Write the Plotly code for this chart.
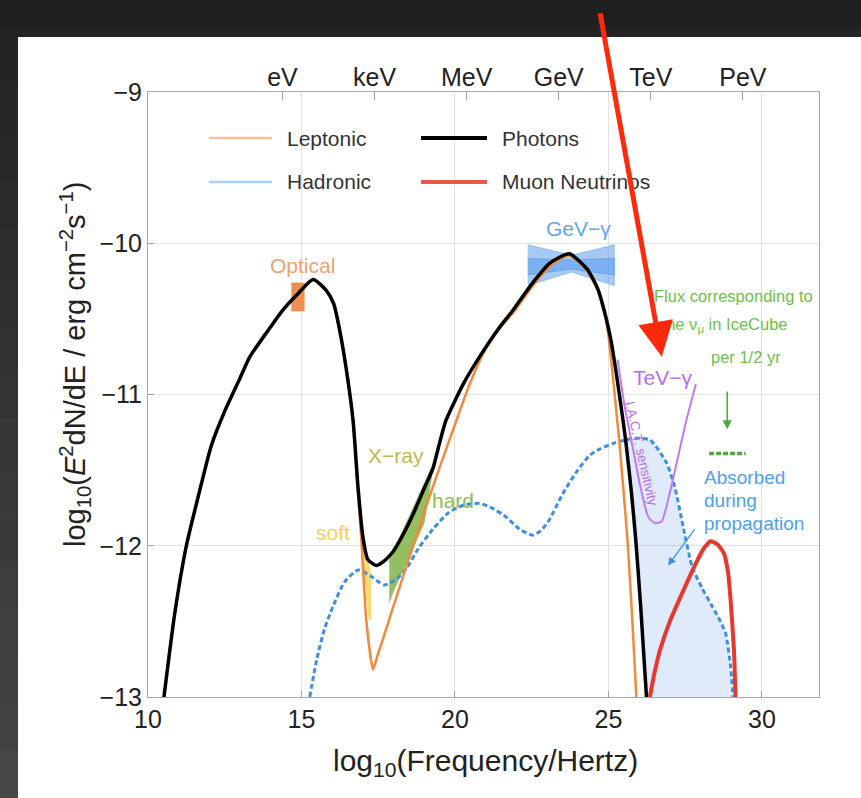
import plotly.graph_objects as go

# ---------------- data (log10 frequency [Hz], log10 E^2 dN/dE [erg cm^-2 s^-1]) ----------------
photon_x = [10.52, 10.87, 11.25, 11.63, 12.06, 12.50, 12.98, 13.32, 13.90, 14.40, 14.90, 15.38,
            15.80, 16.05, 16.24, 16.45, 16.68, 16.84, 17.00, 17.16, 17.44, 17.70, 17.98, 18.30,
            18.64, 19.00, 19.28, 19.50, 19.71, 20.30, 20.90, 21.40, 21.90, 22.50, 23.10, 23.72,
            24.30, 24.65, 24.92, 25.08, 25.30, 25.56, 25.75, 25.89, 26.05, 26.24]
photon_y = [-13.00, -12.45, -12.00, -11.68, -11.34, -11.11, -10.90, -10.75, -10.58, -10.44, -10.33, -10.24,
            -10.31, -10.40, -10.57, -10.82, -11.17, -11.61, -11.94, -12.09, -12.13, -12.10, -12.04, -11.93,
            -11.79, -11.62, -11.49, -11.32, -11.17, -10.92, -10.72, -10.57, -10.44, -10.27, -10.13, -10.07,
            -10.17, -10.30, -10.49, -10.64, -10.92, -11.30, -11.65, -11.96, -12.40, -13.00]

lepton_x = [10.52, 10.87, 11.25, 11.63, 12.06, 12.50, 12.98, 13.32, 13.90, 14.40, 14.90, 15.38,
            15.80, 16.05, 16.24, 16.45, 16.68, 16.84, 16.95, 17.11, 17.33, 17.50, 17.65, 17.87,
            18.41, 19.06, 19.82, 20.50, 21.00, 21.50, 21.90, 22.50, 23.10, 23.72, 24.30, 24.65,
            24.92, 25.02, 25.35, 25.62, 25.78, 25.91]
lepton_y = [-13.00, -12.45, -12.00, -11.68, -11.34, -11.11, -10.90, -10.75, -10.58, -10.44, -10.33, -10.24,
            -10.31, -10.40, -10.57, -10.82, -11.17, -11.63, -11.96, -12.49, -12.82, -12.71, -12.62, -12.48,
            -12.14, -11.74, -11.30, -10.92, -10.70, -10.55, -10.46, -10.29, -10.15, -10.08, -10.18, -10.31,
            -10.51, -10.64, -11.30, -11.96, -12.50, -13.00]

hadron_x = [15.27, 15.50, 15.75, 16.03, 16.40, 16.85, 17.25, 17.70, 18.10, 18.45, 18.80, 19.28,
            19.80, 20.30, 20.80, 21.20, 21.67, 22.10, 22.53, 22.80, 23.07, 23.50, 24.00, 24.40,
            24.72, 25.20, 25.81, 26.35, 26.89, 27.16, 27.43, 27.73, 28.05, 28.38, 28.65, 28.82,
            28.98, 29.06]
hadron_y = [-13.00, -12.75, -12.55, -12.40, -12.24, -12.16, -12.20, -12.26, -12.22, -12.14, -12.02, -11.89,
            -11.78, -11.73, -11.72, -11.75, -11.81, -11.89, -11.93, -11.90, -11.83, -11.66, -11.50, -11.40,
            -11.36, -11.32, -11.29, -11.30, -11.45, -11.61, -11.87, -12.14, -12.28, -12.40, -12.50, -12.58,
            -12.80, -13.00]

numu_x = [26.35, 26.50, 26.68, 27.00, 27.41, 27.84, 28.10, 28.33, 28.55, 28.76, 28.90, 28.98, 29.09, 29.14]
numu_y = [-13.00, -12.84, -12.69, -12.50, -12.31, -12.12, -12.02, -11.97, -11.99, -12.05, -12.18, -12.36, -12.69, -13.00]

iact_x = [25.30, 25.53, 25.81, 26.02, 26.30, 26.51, 26.73, 27.00, 27.27, 27.54, 27.85]
iact_y = [-10.77, -11.08, -11.37, -11.59, -11.81, -11.85, -11.84, -11.65, -11.41, -11.17, -10.93]

optical_x = [14.67, 15.10]
optical_y = [-10.45, -10.26]

soft_x = [16.89, 17.00, 17.12, 17.27, 17.28, 17.19, 17.02]
soft_y = [-11.88, -11.88, -12.05, -12.18, -12.49, -12.49, -12.18]

hard_x = [17.86, 19.23, 19.27, 19.01, 18.41, 18.03, 17.86]
hard_y = [-12.09, -11.48, -11.52, -11.85, -12.12, -12.29, -12.38]

gev_x = [22.37, 23.80, 25.19, 25.19, 23.80, 22.37]
gev_outer_y = [-10.01, -10.08, -10.01, -10.28, -10.19, -10.28]
gev_inner_y = [-10.10, -10.11, -10.10, -10.21, -10.17, -10.21]

icecube_x = [28.28, 29.47]
icecube_y = [-11.39, -11.39]

x_ticks = [10, 15, 20, 25, 30]
y_ticks = [-13, -12, -11, -10, -9]
energy_pos = [14.38, 17.38, 20.38, 23.38, 26.38, 29.38]
energy_text = ["eV", "keV", "MeV", "GeV", "TeV", "PeV"]

FONT = "Liberation Sans, Arial, Helvetica, sans-serif"
X_RANGE = [10, 31.86]
Y_RANGE = [-13, -9]

fig = go.Figure()

# absorbed region: under the hadronic curve, right of the photon cut-off
abs_x = [x for x in hadron_x if x > 25.5] + [x for x in reversed(photon_x) if x > 25.5]
abs_y = [y for x, y in zip(hadron_x, hadron_y) if x > 25.5] + \
        [y for x, y in zip(reversed(photon_x), reversed(photon_y)) if x > 25.5]
fig.add_trace(go.Scatter(x=abs_x, y=abs_y, fill="toself", mode="lines",
                         fillcolor="rgba(110,165,230,0.22)", line=dict(width=0),
                         hoverinfo="skip"))

# GeV gamma-ray butterflies
fig.add_trace(go.Scatter(x=gev_x, y=gev_outer_y, fill="toself", mode="lines",
                         fillcolor="rgba(80,150,235,0.50)", line=dict(width=0.8, color="rgba(80,150,235,0.6)")))
fig.add_trace(go.Scatter(x=gev_x, y=gev_inner_y, fill="toself", mode="lines",
                         fillcolor="rgba(60,140,235,0.40)", line=dict(width=0.8, color="rgba(60,140,235,0.6)")))

# optical point
fig.add_trace(go.Scatter(x=[optical_x[0], optical_x[1], optical_x[1], optical_x[0]],
                         y=[optical_y[0], optical_y[0], optical_y[1], optical_y[1]],
                         fill="toself", mode="lines", fillcolor="#ef8f4e", line=dict(width=0)))

# X-ray bands
fig.add_trace(go.Scatter(x=soft_x, y=soft_y, fill="toself", mode="lines",
                         fillcolor="rgba(247,212,90,0.85)", line=dict(width=0)))
fig.add_trace(go.Scatter(x=hard_x, y=hard_y, fill="toself", mode="lines",
                         fillcolor="rgba(132,182,74,0.88)", line=dict(width=0)))

# hadronic component
fig.add_trace(go.Scatter(x=hadron_x, y=hadron_y, mode="lines",
                         line=dict(color="#3d8fe6", width=3, dash="5px,3px", shape="spline", smoothing=0.6)))

# IACT sensitivity
fig.add_trace(go.Scatter(x=iact_x, y=iact_y, mode="lines",
                         line=dict(color="#c07af2", width=2, shape="spline", smoothing=0.6)))

# leptonic component
fig.add_trace(go.Scatter(x=lepton_x, y=lepton_y, mode="lines",
                         line=dict(color="#f08a3c", width=2.5, shape="spline", smoothing=0.5)))

# total photons
fig.add_trace(go.Scatter(x=photon_x, y=photon_y, mode="lines",
                         line=dict(color="#000000", width=3.5, shape="spline", smoothing=0.6)))

# muon neutrinos
fig.add_trace(go.Scatter(x=numu_x, y=numu_y, mode="lines",
                         line=dict(color="#e8372c", width=4, shape="spline", smoothing=0.5)))

# one IceCube event level
fig.add_trace(go.Scatter(x=icecube_x, y=icecube_y, mode="lines",
                         line=dict(color="#4fa83a", width=3.5, dash="5px,2px")))

# energy scale on top axis
fig.add_trace(go.Scatter(x=energy_pos, y=[Y_RANGE[0]] * len(energy_pos), xaxis="x2",
                         mode="markers", marker=dict(opacity=0), hoverinfo="skip"))

fig.update_traces(showlegend=False)

axis_common = dict(showline=True, linecolor="#a8a8a8", linewidth=1, mirror=True,
                   ticks="inside", ticklen=6, tickcolor="#a0a0a0",
                   showgrid=True, gridcolor="#e2e2e2", gridwidth=1, zeroline=False,
                   tickfont=dict(family=FONT, size=25, color="#222222"))

fig.update_layout(
    width=861, height=798,
    margin=dict(l=148, r=42, t=92, b=101),
    paper_bgcolor="#1f1f1f", plot_bgcolor="white",
    font=dict(family=FONT),
    xaxis=dict(range=X_RANGE, tickvals=x_ticks, **axis_common),
    yaxis=dict(range=Y_RANGE, tickvals=y_ticks, **axis_common),
    xaxis2=dict(range=X_RANGE, overlaying="x", side="top", anchor="y",
                tickvals=energy_pos, ticktext=energy_text, ticks="inside", ticklen=8,
                tickcolor="#a0a0a0", showgrid=False, showline=False, zeroline=False,
                tickfont=dict(family=FONT, size=25, color="#222222")),
)


def px(x):
    return (x - 148) / 671


def py(y):
    return (697 - y) / 605


shapes = []
# slide page and dark surround
shapes.append(dict(type="rect", xref="paper", yref="paper", layer="below",
                   x0=px(18), x1=px(861), y0=py(798), y1=py(37),
                   fillcolor="white", line=dict(width=0)))
shapes.append(dict(type="rect", xref="paper", yref="paper", layer="below",
                   x0=px(0), x1=px(861), y0=py(37), y1=py(26),
                   fillcolor="#242424", line=dict(width=0)))
n_band = 16
for i in range(n_band):
    top = 37 + (798 - 37) * i / n_band
    bot = 37 + (798 - 37) * (i + 1) / n_band
    g = int(0x24 + (0x46 - 0x24) * i / (n_band - 1))
    shapes.append(dict(type="rect", xref="paper", yref="paper", layer="below",
                       x0=px(0), x1=px(18), y0=py(bot + 0.5), y1=py(top),
                       fillcolor=f"rgb({g},{g},{g})", line=dict(width=0)))

# legend swatches
legend_rows = [
    ("Leptonic", "#f6c29c", 2.5, 209, 272, 138),
    ("Hadronic", "#a6d0f7", 2.5, 209, 272, 182),
    ("Photons", "#000000", 4, 421, 487, 138),
    ("Muon Neutrinos", "#e8574c", 4, 421, 487, 182),
]
annotations = []
for name, col, w, xa, xb, yy in legend_rows:
    shapes.append(dict(type="line", xref="paper", yref="paper",
                       x0=px(xa), x1=px(xb), y0=py(yy), y1=py(yy),
                       line=dict(color=col, width=w)))
    annotations.append(dict(xref="paper", yref="paper", x=px(xb + 13), y=py(yy),
                            xanchor="left", yanchor="middle", showarrow=False, text=name,
                            font=dict(family=FONT, size=21, color="#333333")))

fig.update_layout(shapes=shapes)


def label(x, y, text, color, size=21, **kw):
    d = dict(x=x, y=y, xref="x", yref="y", text=text, showarrow=False,
             font=dict(family=FONT, size=size, color=color))
    d.update(kw)
    annotations.append(d)


label(15.04, -10.15, "Optical", "#f0a06c")
label(24.04, -9.90, "GeV−γ", "#62a8f0")
label(18.08, -11.40, "X−ray", "#bcbd50")
label(16.03, -11.91, "soft", "#f5d060")
label(19.93, -11.70, "hard", "#8cbf50")
label(26.76, -10.89, "TeV−γ", "#b86cf0")
label(26.07, -11.39, "I.A.C.T. sensitivity", "#b86cf0", size=13.5, textangle=77)
label(29.06, -10.35, "Flux corresponding to", "#6cc04a", size=16.5)
label(28.73, -10.54, "one ν<sub>μ</sub> in IceCube", "#6cc04a", size=16.5)
label(29.48, -10.75, "per 1/2 yr", "#6cc04a", size=16.5)
label(28.05, -11.55, "Absorbed", "#4da0f0", size=19, xanchor="left")
label(28.05, -11.70, "during", "#4da0f0", size=19, xanchor="left")
label(28.05, -11.85, "propagation", "#4da0f0", size=19, xanchor="left")

# pointer arrows
annotations.append(dict(x=28.87, y=-11.23, ax=28.87, ay=-10.97, xref="x", yref="y",
                        axref="x", ayref="y", text="", showarrow=True, arrowhead=2,
                        arrowsize=1.2, arrowwidth=1.5, arrowcolor="#4fa83a"))
annotations.append(dict(x=26.94, y=-12.13, ax=27.85, ay=-11.88, xref="x", yref="y",
                        axref="x", ayref="y", text="", showarrow=True, arrowhead=2,
                        arrowsize=1.3, arrowwidth=1.2, arrowcolor="#3d8fe6"))
annotations.append(dict(x=26.74, y=-10.75, ax=-62, ay=-345, xref="x", yref="y",
                        text="", showarrow=True, arrowhead=2, arrowsize=1.4,
                        arrowwidth=5, arrowcolor="#ff2a0c"))

# axis titles
annotations.append(dict(xref="paper", yref="paper", x=px(485), y=py(762), showarrow=False,
                        text="log<sub>10</sub>(Frequency/Hertz)", xanchor="center", yanchor="middle",
                        font=dict(family=FONT, size=30, color="#222222")))
annotations.append(dict(xref="paper", yref="paper", x=px(75), y=py(365), showarrow=False,
                        textangle=-90, xanchor="center", yanchor="middle",
                        text="log<sub>10</sub>(<i>E</i><sup>2</sup>dN/dE / erg cm<sup>−2</sup>s<sup>−1</sup>)",
                        font=dict(family=FONT, size=29, color="#222222")))

fig.update_layout(annotations=annotations)

fig.write_html("out.html")
